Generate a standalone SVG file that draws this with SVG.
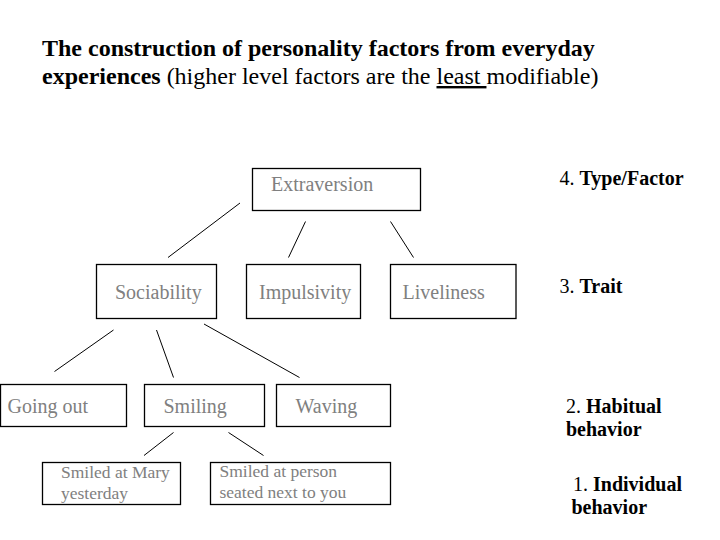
<svg xmlns="http://www.w3.org/2000/svg" width="720" height="540" viewBox="0 0 720 540">
<style>
text{font-family:"Liberation Serif","Times New Roman",serif;}
.title{font-size:24px;fill:#000;}
.b{font-weight:bold;}
.node rect{fill:#fff;stroke:#000;stroke-width:1.3;}
.node text{font-size:20px;fill:#808080;}
.node text.sm{font-size:17.5px;}
.lvl{font-size:20px;fill:#000;}
.conn line{stroke:#000;stroke-width:1;}
</style>
<rect width="720" height="540" fill="#fff"/>
<g id="title">
<text class="title b" x="42" y="56">The construction of personality factors from everyday</text>
<text class="title" x="42" y="84"><tspan class="b">experiences</tspan> (higher level factors are the <tspan text-decoration="underline">least </tspan>modifiable)</text>
</g>
<g id="connectors" class="conn">
<line x1="240" y1="203" x2="168" y2="257.5"/>
<line x1="305.5" y1="221.5" x2="288.5" y2="257.5"/>
<line x1="390.5" y1="221.5" x2="413.5" y2="257.5"/>
<line x1="113.5" y1="330" x2="54.5" y2="371.5"/>
<line x1="156.5" y1="330" x2="173.5" y2="377.5"/>
<line x1="204" y1="324" x2="299.5" y2="377.5"/>
<line x1="173.5" y1="432.5" x2="144" y2="455.5"/>
<line x1="228.5" y1="432.5" x2="263.5" y2="455.5"/>
</g>
<g id="extraversion" class="node"><rect x="252.5" y="168.5" width="168" height="42"/><text x="271" y="191">Extraversion</text></g>
<g id="sociability" class="node"><rect x="96.5" y="264.5" width="120" height="54"/><text x="115" y="299">Sociability</text></g>
<g id="impulsivity" class="node"><rect x="246.5" y="264.5" width="114" height="54"/><text x="259" y="299">Impulsivity</text></g>
<g id="liveliness" class="node"><rect x="390.5" y="264.5" width="125.5" height="54"/><text x="402.5" y="299">Liveliness</text></g>
<g id="going-out" class="node"><rect x="0.5" y="384.5" width="126" height="42"/><text x="7.5" y="413">Going out</text></g>
<g id="smiling" class="node"><rect x="144.5" y="384.5" width="120" height="42"/><text x="163.5" y="413">Smiling</text></g>
<g id="waving" class="node"><rect x="276.5" y="384.5" width="114" height="42"/><text x="295.5" y="413">Waving</text></g>
<g id="smiled-mary" class="node"><rect x="42.5" y="462.5" width="138" height="42"/><text class="sm" x="61" y="477.5">Smiled at Mary</text><text class="sm" x="61" y="499">yesterday</text></g>
<g id="smiled-person" class="node"><rect x="210.5" y="462.5" width="180" height="42"/><text class="sm" x="219.5" y="476.5">Smiled at person</text><text class="sm" x="219.5" y="498">seated next to you</text></g>
<g id="levels">
<text class="lvl" x="559.5" y="185">4. <tspan class="b">Type/Factor</tspan></text>
<text class="lvl" x="559.5" y="292.5">3. <tspan class="b">Trait</tspan></text>
<text class="lvl" x="566" y="413">2. <tspan class="b">Habitual</tspan></text>
<text class="lvl b" x="566" y="436">behavior</text>
<text class="lvl" x="573" y="490.5">1. <tspan class="b">Individual</tspan></text>
<text class="lvl b" x="571.5" y="514">behavior</text>
</g>
</svg>
